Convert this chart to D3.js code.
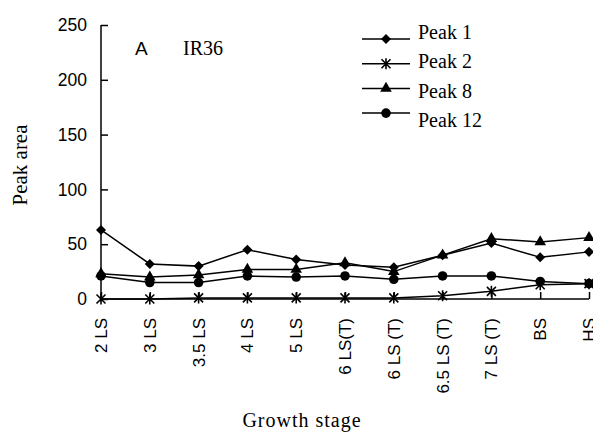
<!DOCTYPE html>
<html>
<head>
<meta charset="utf-8">
<script src="https://cdn.jsdelivr.net/npm/d3@7"></script>
<style>
    body { margin: 0; background: #fff; }
    svg { display: block; }
</style>
</head>
<body>
<div id="chart"></div>
<script>
// Growth stages on the x axis
const stages = ['2 LS', '3 LS', '3.5 LS', '4 LS', '5 LS', '6 LS(T)', '6 LS (T)', '6.5 LS (T)', '7 LS (T)', 'BS', 'HS'];

// Peak areas
const peak1 = [63, 32, 30, 45, 36, 31, 29, 40, 51, 38, 43];
const peak2 = [0, 0, 1, 1, 1, 1, 1, 3, 7, 13, 14];
const peak8 = [23, 20, 22, 27, 27, 33, 25, 40, 55, 52, 56];
const peak12 = [21, 15, 15, 21, 20, 21, 18, 21, 21, 16, 14];

const seriesNames = ['Peak 1', 'Peak 2', 'Peak 8', 'Peak 12'];
const yTicks = [0, 50, 100, 150, 200, 250];

const W = 593, H = 433;
const margin = { top: 25, right: 4, bottom: 134, left: 101 };

const svg = d3.select('#chart').append('svg')
    .attr('width', W)
    .attr('height', H);

const x = d3.scalePoint()
    .domain(stages)
    .range([margin.left, W - margin.right]);

const y = d3.scaleLinear()
    .domain([0, 250])
    .range([H - margin.bottom, margin.top]);

// Y axis, ticks pointing inside
const yAxis = svg.append('g')
    .attr('transform', `translate(${margin.left},0)`)
    .call(d3.axisRight(y).tickValues(yTicks).tickSize(7).tickFormat(''));
yAxis.select('.domain').attr('d', `M0,${y(0)}V${y(250)}`);
yAxis.selectAll('line, path').attr('stroke', '#000').attr('stroke-width', 1.5);

svg.selectAll('.ylab')
    .data(yTicks)
    .enter().append('text')
    .attr('class', 'ylab')
    .attr('x', 87)
    .attr('y', d => y(d))
    .attr('dy', '0.35em')
    .attr('text-anchor', 'end')
    .style('font-family', 'Liberation Sans, Arial, sans-serif')
    .style('font-size', '17.5px')
    .text(d => d);

// X axis, ticks pointing up
const xAxis = svg.append('g')
    .attr('transform', `translate(0,${y(0)})`)
    .call(d3.axisTop(x).tickSize(7).tickFormat(''));
xAxis.select('.domain').attr('d', `M${x(stages[0])},0H${x(stages[stages.length - 1])}`);
xAxis.selectAll('line, path').attr('stroke', '#000').attr('stroke-width', 1.5);

// the last label runs off the right edge, as in the original
svg.selectAll('.xlab')
    .data(stages)
    .enter().append('text')
    .attr('class', 'xlab')
    .attr('transform', d => `translate(${x(d)},318) rotate(-90)`)
    .attr('dy', '0.35em')
    .attr('text-anchor', 'end')
    .style('font-family', 'Liberation Sans, Arial, sans-serif')
    .style('font-size', '17px')
    .text(d => d);

// Axis titles
svg.append('text')
    .attr('transform', 'translate(27,165) rotate(-90)')
    .attr('text-anchor', 'middle')
    .style('font-family', 'Liberation Serif, Times New Roman, serif')
    .style('font-size', '21px')
    .text('Peak area');

svg.append('text')
    .attr('x', 302)
    .attr('y', 427)
    .attr('text-anchor', 'middle')
    .style('font-family', 'Liberation Serif, Times New Roman, serif')
    .style('font-size', '20px')
    .style('letter-spacing', '1px')
    .text('Growth stage');

// Panel label
svg.append('text')
    .attr('x', 135)
    .attr('y', 55)
    .style('font-family', 'Liberation Sans, Arial, sans-serif')
    .style('font-size', '19px')
    .text('A');

svg.append('text')
    .attr('x', 183)
    .attr('y', 55)
    .style('font-family', 'Liberation Serif, Times New Roman, serif')
    .style('font-size', '20px')
    .text('IR36');

// Marker shapes
const markers = [
    d3.symbol().type(d3.symbolDiamond2).size(64),
    null,
    d3.symbol().type(d3.symbolTriangle).size(58),
    d3.symbol().type(d3.symbolCircle).size(72)
];

function drawMarker(g, i) {
    if (i === 1) {
        // star: an X with a vertical bar
        const s = 4.5;
        g.append('path')
            .attr('d', `M${-s},${-s}L${s},${s}M${-s},${s}L${s},${-s}M0,${-s - 1}V${s + 1}`)
            .attr('stroke', '#000')
            .attr('stroke-width', 1.6)
            .attr('fill', 'none');
    } else {
        g.append('path')
            .attr('d', markers[i]())
            .attr('fill', '#000');
    }
}

const line = d3.line()
    .x((d, i) => x(stages[i]))
    .y(d => y(d));

const allSeries = [peak1, peak2, peak8, peak12];

allSeries.forEach((values, si) => {
    svg.append('path')
        .datum(values)
        .attr('fill', 'none')
        .attr('stroke', '#000')
        .attr('stroke-width', 1.5)
        .attr('d', line);

    values.forEach((v, i) => {
        const g = svg.append('g')
            .attr('transform', `translate(${x(stages[i])},${y(v)})`);
        drawMarker(g, si);
    });
});

// Legend
seriesNames.forEach((name, i) => {
    const ly = 39 + i * 24.7;
    svg.append('line')
        .attr('x1', 362)
        .attr('x2', 410)
        .attr('y1', ly)
        .attr('y2', ly)
        .attr('stroke', '#000')
        .attr('stroke-width', 1.5);
    const g = svg.append('g').attr('transform', `translate(386,${ly})`);
    drawMarker(g, i);
    svg.append('text')
        .attr('x', 418)
        .attr('y', 39 + i * 29.3)
        .style('font-family', 'Liberation Serif, Times New Roman, serif')
        .style('font-size', '20px')
        .text(name);
});
</script>
</body>
</html>
